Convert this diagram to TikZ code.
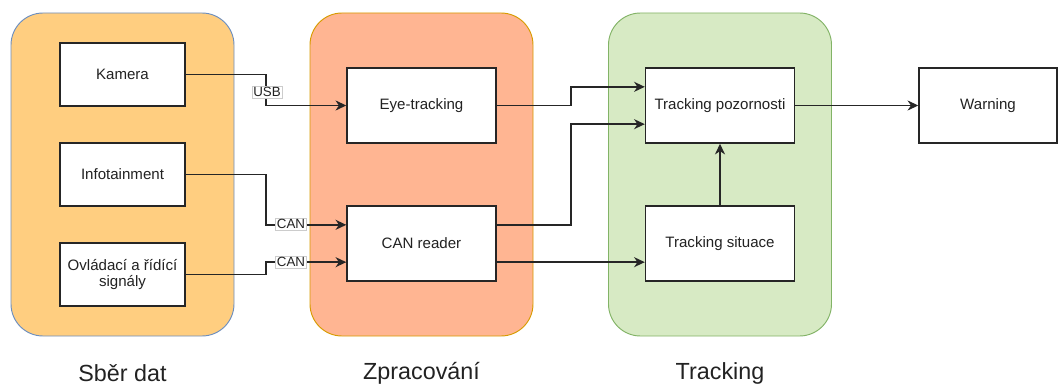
\documentclass[tikz,border=0pt]{standalone}
\usepackage{fontspec}
\setmainfont{Liberation Sans}
\usetikzlibrary{arrows.meta}
\definecolor{gAfill}{HTML}{FFCE80}
\definecolor{gAdraw}{HTML}{6C8EBF}
\definecolor{gBfill}{HTML}{FFB592}
\definecolor{gBdraw}{HTML}{D79B00}
\definecolor{gCfill}{HTML}{D7EAC4}
\definecolor{gCdraw}{HTML}{82B366}
\definecolor{txt}{HTML}{222222}
\tikzset{
  grp/.style={rounded corners=24pt, line width=0.7pt, minimum width=167.25pt, minimum height=242.25pt, inner sep=0pt},
  blk/.style={draw=black!85, fill=white, line width=1.1pt, inner sep=0pt, align=center, font=\fontsize{11.3}{13}\selectfont, text=txt},
  small/.style={blk, minimum width=93.75pt, minimum height=47.25pt},
  big/.style={blk, minimum width=111.75pt, minimum height=56.25pt},
  title/.style={font=\fontsize{17.5}{20}\selectfont, text=txt},
  lbl/.style={fill=white, draw=black!20, line width=0.5pt, inner sep=1pt, font=\fontsize{10}{12}\selectfont, text=txt},
  con/.style={line width=1.1pt, draw=black!85, -{Stealth[length=8pt,width=7.5pt,inset=2.5pt]}}
}
\begin{document}
\begin{tikzpicture}[x=0.75pt,y=-0.75pt]
\useasboundingbox (0,0) rectangle (1058,385);
\node[grp, fill=gAfill, draw=gAdraw] (gA) at (122.5,174.5) {};
\node[grp, fill=gBfill, draw=gBdraw] (gB) at (421.5,174.5) {};
\node[grp, fill=gCfill, draw=gCdraw] (gC) at (720,174.5) {};
\node[title] (tA) at (122.5,373) {Sběr dat};
\node[title] (tB) at (421.5,373) {Zpracování};
\node[title] (tC) at (720,373) {Tracking};

\node[small] (kam) at (122.5,74.5) {Kamera};
\node[small] (inf) at (122.5,174.5) {Infotainment};
\node[small] (ovl) at (122.5,274.5) {Ovládací a řídící\\[-1pt]signály};

\node[big] (eye) at (421.5,105.5) {Eye-tracking};
\node[big] (can) at (421.5,243.5) {CAN reader};

\node[big] (tp) at (720,105.5) {Tracking pozornosti};
\node[big] (ts) at (720,243.5) {Tracking situace};

\node[blk, minimum width=103.5pt, minimum height=56.25pt] (warn) at (988,105.5) {Warning};

\coordinate (k1) at (266,0);
\coordinate (k2) at (571,0);
\coordinate (canIn1) at ([yshift=14pt]can.west);
\coordinate (canIn2) at ([yshift=-14pt]can.west);
\coordinate (canOut1) at ([yshift=14pt]can.east);
\coordinate (canOut2) at ([yshift=-14pt]can.east);
\coordinate (tpIn1) at ([yshift=14pt]tp.west);
\coordinate (tpIn2) at ([yshift=-14pt]tp.west);

\draw[con] (kam.east) -| (k1 |- kam.east) |- (eye.west);
\node[lbl] (usb) at (267,92) {USB};
\draw[con] (inf.east) -| (k1 |- inf.east) |- (canIn1);
\node[lbl] (can1) at (291,224) {CAN};
\draw[con] (ovl.east) -| (k1 |- ovl.east) |- (canIn2);
\node[lbl] (can2) at (291,262) {CAN};

\draw[con] (eye.east) -| (k2 |- eye.east) |- (tpIn1);
\draw[con] (canOut1) -| (k2 |- canOut1) |- (tpIn2);
\draw[con] (canOut2) -- (canOut2 -| ts.west);
\draw[con] (ts.north) -- (tp.south);
\draw[con] (tp.east) -- (warn.west);
\end{tikzpicture}
\end{document}
